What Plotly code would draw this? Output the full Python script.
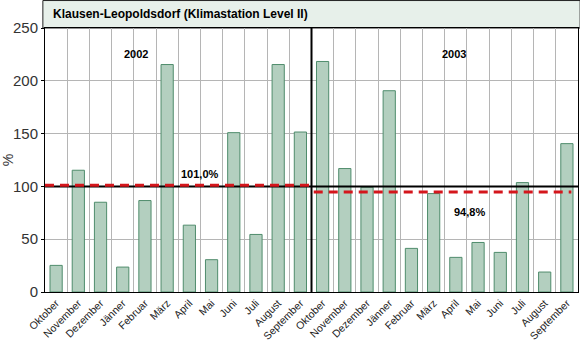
import plotly.graph_objects as go

months = ["Oktober", "November", "Dezember", "Jänner", "Februar", "März",
          "April", "Mai", "Juni", "Juli", "August", "September"]
categories = months + months
values_2002 = [25.2, 115.3, 85.0, 23.6, 86.6, 215.4, 63.3, 30.6, 150.9, 54.5, 215.4, 151.5]
values_2003 = [218.3, 116.9, 99.2, 190.6, 41.3, 93.2, 32.8, 46.9, 37.5, 103.6, 18.9, 140.5]
values = values_2002 + values_2003
mean_2002 = 101.0
mean_2003 = 94.8
y_ticks = [0, 50, 100, 150, 200, 250]

positions = list(range(len(categories)))
n = len(categories)
split = len(values_2002) - 0.5

fig = go.Figure()

fig.add_trace(go.Bar(
    x=positions, y=values, width=0.55,
    marker=dict(color="#b3cfbf", line=dict(color="#4f8c6c", width=1)),
    hoverinfo="x+y", showlegend=False,
))

# reference line at 100 %
fig.add_trace(go.Scatter(x=[-0.5, n - 0.5], y=[100, 100], mode="lines",
                         line=dict(color="black", width=2), showlegend=False,
                         hoverinfo="skip"))
# mean of each hydrological year
fig.add_trace(go.Scatter(x=[-0.5, split], y=[mean_2002, mean_2002], mode="lines",
                         line=dict(color="#d4161c", width=3, dash="9px,6px"),
                         showlegend=False, hoverinfo="skip"))
fig.add_trace(go.Scatter(x=[split + 0.1, n - 0.8], y=[mean_2003, mean_2003], mode="lines",
                         line=dict(color="#d4161c", width=3, dash="9px,6px"),
                         showlegend=False, hoverinfo="skip"))
# separator between the two years
fig.add_trace(go.Scatter(x=[split, split], y=[0, 250], mode="lines",
                         line=dict(color="black", width=2), showlegend=False,
                         hoverinfo="skip"))

bold = dict(family="Liberation Sans, Arial, sans-serif", size=11, color="black")
fig.add_annotation(x=3.6, y=225, text="<b>2002</b>", showarrow=False, font=bold)
fig.add_annotation(x=17.9, y=225, text="<b>2003</b>", showarrow=False, font=bold)
fig.add_annotation(x=6.5, y=mean_2002 + 11, text="<b>%s%%</b>" % f"{mean_2002:.1f}".replace(".", ","),
                   showarrow=False, font=bold)
fig.add_annotation(x=18.6, y=mean_2003 - 19, text="<b>%s%%</b>" % f"{mean_2003:.1f}".replace(".", ","),
                   showarrow=False, font=bold)

# header band with station name
fig.add_shape(type="rect", xref="paper", yref="paper", x0=-0.004, x1=1.004,
              y0=1, y1=1.104, fillcolor="#e7f0ea",
              line=dict(color="#222222", width=1), layer="below")
fig.add_annotation(xref="paper", yref="paper", x=0.012, y=1.053, xanchor="left",
                   yanchor="middle", showarrow=False,
                   text="<b>Klausen-Leopoldsdorf (Klimastation Level II)</b>",
                   font=dict(family="Liberation Sans, Arial, sans-serif", size=12, color="black"))

fig.update_layout(
    width=580, height=343,
    margin=dict(l=45, r=2, t=28, b=51),
    paper_bgcolor="white", plot_bgcolor="white",
    bargap=0.45,
)
fig.update_xaxes(
    range=[-0.5, n - 0.5], tickmode="array", tickvals=positions, ticktext=categories,
    tickangle=-45, showgrid=False, zeroline=False, automargin=False,
    tickfont=dict(family="Liberation Sans Narrow, Arial Narrow, Liberation Sans, Arial", size=10.5, color="#222"),
    showline=True, linecolor="black", linewidth=1, mirror=True,
    ticks="", ticklabelstandoff=0,
    minor=dict(tickmode="array", tickvals=[p - 0.5 for p in positions[1:]],
               showgrid=True, gridcolor="#b5b5b5", gridwidth=1),
)
fig.update_yaxes(
    range=[0, 250], tickmode="array", tickvals=y_ticks, automargin=False,
    showgrid=True, gridcolor="#b5b5b5", gridwidth=1, zeroline=False,
    tickfont=dict(family="Liberation Sans, Arial", size=15, color="#333"),
    showline=True, linecolor="black", linewidth=1, mirror=True,
    ticks="outside", ticklen=3, tickcolor="black",
    title=dict(text="%", font=dict(family="Liberation Sans, Arial", size=14, color="#333"), standoff=6),
)

fig.write_html("out.html")
